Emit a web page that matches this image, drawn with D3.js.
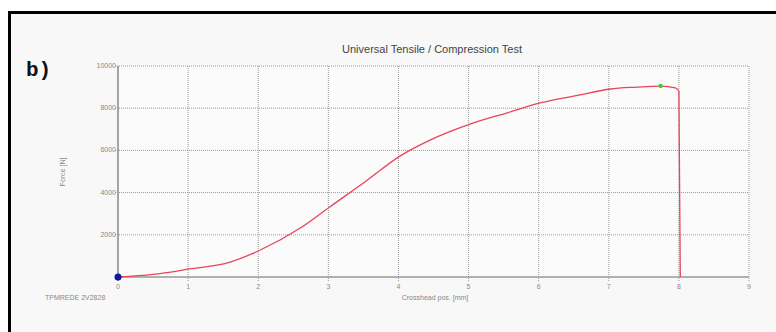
<!DOCTYPE html>
<html>
<head>
<meta charset="utf-8">
<script src="https://cdn.jsdelivr.net/npm/d3@7"></script>
<style>
  html, body { margin: 0; padding: 0; background: #ffffff; }
  svg { display: block; }
</style>
</head>
<body>
<script>
// ---- data ----
const displacement = [0, 0.5, 1.02, 1.6, 2.03, 2.6, 3.02, 3.52, 4.02, 4.45, 5.02, 5.59, 6.02, 6.59, 7.02, 7.4, 7.74, 7.95, 8.0, 8.02];
const force        = [0, 120, 380, 710, 1280, 2320, 3320, 4500, 5730, 6490, 7250, 7820, 8250, 8630, 8910, 9000, 9050, 8960, 8820, 0];
const xTicks = [0, 1, 2, 3, 4, 5, 6, 7, 8, 9];
const yTicks = [2000, 4000, 6000, 8000, 10000];
const startPoint = [0, 0];
const maxPoint = [7.74, 9050];
const title = "Universal Tensile / Compression Test";
const xLabel = "Crosshead pos. [mm]";
const yLabel = "Force [N]";
const footLabel = "TPMREDE 2V2828";
const panelLabel = "b)";

const W = 776, H = 332;
const svg = d3.select("body").append("svg").attr("width", W).attr("height", H);

// panel background and border
svg.append("rect").attr("x", 8).attr("y", 11).attr("width", W - 8).attr("height", H - 11).attr("fill", "#f8f8f8");
svg.append("rect").attr("x", 8).attr("y", 11).attr("width", W - 8).attr("height", 3).attr("fill", "#000");
svg.append("rect").attr("x", 8).attr("y", 11).attr("width", 3).attr("height", H - 11).attr("fill", "#000");

svg.append("text").attr("x", 26).attr("y", 76).text(panelLabel)
  .attr("font-family", "'Liberation Mono', 'DejaVu Sans Mono', monospace").attr("font-weight", "bold")
  .attr("font-size", 21).attr("fill", "#111");

const x = d3.scaleLinear().domain([0, 9]).range([118, 749]);
const y = d3.scaleLinear().domain([0, 10000]).range([277, 66]);

const g = svg.append("g");
g.append("rect").attr("x", x(0)).attr("y", y(10000)).attr("width", x(9) - x(0)).attr("height", y(0) - y(10000)).attr("fill", "#fbfbfb");

// grid
g.selectAll(".vg").data(xTicks.filter(d => d > 0)).enter().append("line")
  .attr("x1", d => x(d)).attr("x2", d => x(d)).attr("y1", y(10000)).attr("y2", y(0) + 4)
  .attr("stroke", "#999").attr("stroke-width", 1).attr("stroke-dasharray", "1,1");
g.selectAll(".hg").data(yTicks).enter().append("line")
  .attr("x1", x(0) - 3).attr("x2", x(9)).attr("y1", d => y(d)).attr("y2", d => y(d))
  .attr("stroke", "#999").attr("stroke-width", 1).attr("stroke-dasharray", "1,1");

// axes lines
g.append("line").attr("x1", x(0)).attr("x2", x(0)).attr("y1", y(10000)).attr("y2", y(0) + 4).attr("stroke", "#888").attr("stroke-width", 1.5);
g.append("line").attr("x1", x(0)).attr("x2", x(9)).attr("y1", y(0)).attr("y2", y(0)).attr("stroke", "#999").attr("stroke-width", 1.5);

// tick labels
g.selectAll(".xt").data(xTicks).enter().append("text")
  .attr("x", d => x(d)).attr("y", y(0) + 12).attr("text-anchor", "middle")
  .attr("font-family", "'Liberation Sans', Arial, sans-serif").attr("font-size", 7).attr("fill", "#888")
  .text(d => d);
g.selectAll(".yt").data(yTicks).enter().append("text")
  .attr("x", x(0) - 2).attr("y", d => y(d) + 2).attr("text-anchor", "end")
  .attr("font-family", "'Liberation Sans', Arial, sans-serif").attr("font-size", 7).attr("fill", "#888")
  .text(d => d);

// labels
svg.append("text").attr("x", 432).attr("y", 53).attr("text-anchor", "middle")
  .attr("font-family", "'Liberation Sans', Arial, sans-serif").attr("font-size", 11).attr("fill", "#444").text(title);
svg.append("text").attr("x", 435).attr("y", 300).attr("text-anchor", "middle")
  .attr("font-family", "'Liberation Sans', Arial, sans-serif").attr("font-size", 7).attr("fill", "#888").text(xLabel);
svg.append("text").attr("transform", "translate(65,172) rotate(-90)").attr("text-anchor", "middle")
  .attr("font-family", "'Liberation Sans', Arial, sans-serif").attr("font-size", 7).attr("fill", "#888").text(yLabel);
svg.append("text").attr("x", 45).attr("y", 300)
  .attr("font-family", "'Liberation Sans', Arial, sans-serif").attr("font-size", 7).attr("fill", "#888").text(footLabel);

// curve
const pts = displacement.map((d, i) => [d, force[i]]);
const line = d3.line().x(d => x(d[0])).y(d => y(d[1])).curve(d3.curveMonotoneX);
g.append("path").datum(pts.slice(0, pts.length - 1)).attr("d", line)
  .attr("fill", "none").attr("stroke", "#e8445a").attr("stroke-width", 1.3);
g.append("path").datum(pts.slice(pts.length - 2)).attr("d", d3.line().x(d => x(d[0])).y(d => y(d[1])))
  .attr("fill", "none").attr("stroke", "#e8445a").attr("stroke-width", 1.3);

// markers
g.append("circle").attr("cx", x(startPoint[0])).attr("cy", y(startPoint[1])).attr("r", 3.5).attr("fill", "#0a1a9a");
g.append("circle").attr("cx", x(maxPoint[0])).attr("cy", y(maxPoint[1])).attr("r", 2.2).attr("fill", "#44cc33");
</script>
</body>
</html>
